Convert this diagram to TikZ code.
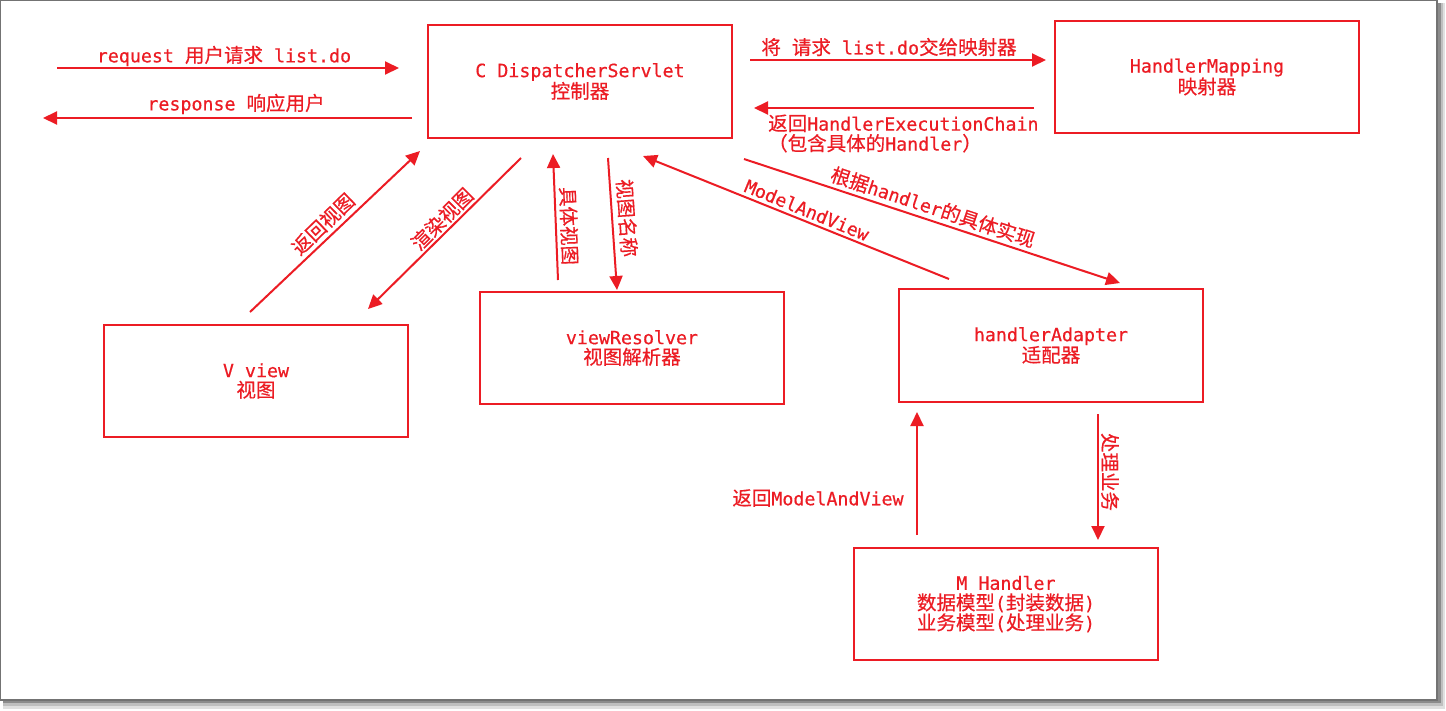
\documentclass[tikz,border=0pt]{standalone}
\usepackage{fontspec}
\setmainfont{DejaVu Sans Mono}
\newfontfamily\latinfont[FakeBold=0.5]{DejaVu Sans Mono}
\newfontfamily\cjkfont[FakeBold=0.5]{Noto Sans CJK SC}
\newcommand\zh[1]{{\cjkfont\fontsize{19.5}{20}\selectfont #1}}
\usetikzlibrary{arrows.meta,calc}
\definecolor{lred}{RGB}{236,28,36}
\begin{document}
\begin{tikzpicture}[x=1pt,y=-1pt,
  font=\latinfont\fontsize{18.3}{20}\selectfont,
  box/.style={draw=lred, line width=2pt, minimum width=304pt, minimum height=112pt,
    inner sep=0pt, align=center, text=lred},
  arr/.style={draw=lred, line width=2pt, -{Triangle[length=14pt,width=13pt]}},
  lbl/.style={text=lred, inner sep=0pt}]
% page and frame with drop shadow
\useasboundingbox (0,0) rectangle (1446,710);
\fill[white] (0,0) rectangle (1446,710);
\fill[black!12] (3,3) rectangle (1445,709);
\fill[black!25] (3,3) rectangle (1443,706);
\fill[black!45] (3,3) rectangle (1441,703);
\filldraw[fill=white, draw=black!55, line width=1.2pt] (0.6,0.6) rectangle (1437,700);

% components
\node[box, minimum height=113pt] (ds) at (580,81.5) {C DispatcherServlet\\\zh{控制器}};
\node[box] (hm) at (1207,77) {HandlerMapping\\\zh{映射器}};
\node[box] (vv) at (256,381) {V view\\\zh{视图}};
\node[box] (vr) at (632,348) {viewResolver\\\zh{视图解析器}};
\node[box, minimum height=113pt] (ha) at (1051,345.5) {handlerAdapter\\\zh{适配器}};
\node[box] (mh) at (1006,604) {M Handler\\\zh{数据模型}(\zh{封装数据})\\\zh{业务模型}(\zh{处理业务})};

% user side
\coordinate (userin) at (57,68);
\coordinate (userout) at (43,118);
\draw[arr] (userin) -- ([shift={(-28,-13.5)}]ds.west);
\node[lbl] at (224,56) {request \zh{用户请求} list.do};
\draw[arr] ([shift={(-15,36.5)}]ds.west) -- (userout);
\node[lbl] at (236,104) {response \zh{响应用户}};

% dispatcher <-> mapping
\draw[arr] ([shift={(17,-21.5)}]ds.east) -- ([shift={(-8,-17)}]hm.west);
\node[lbl] at (889,47) {\zh{将} \zh{请求} list.do\zh{交给映射器}};
\draw[arr] ([shift={(-20,31)}]hm.west) -- ([shift={(21,26.5)}]ds.east);
\node[lbl, anchor=west, align=left] at (768,133.5) {\zh{返回}HandlerExecutionChain\\\zh{（包含具体的}Handler\zh{）}};

% dispatcher <-> view
\draw[arr] ([shift={(-6,-12)}]vv.north) -- ([shift={(-7,12)}]ds.south west);
\node[lbl, rotate=44] at (323,224) {\zh{返回视图}};
\draw[arr] ([shift={(94,19)}]ds.south west) -- ([shift={(-41,-15)}]vv.north east);
\node[lbl, rotate=45] at (442,219) {\zh{渲染视图}};

% dispatcher <-> view resolver
\draw[arr] ([shift={(-74,-11)}]vr.north) -- ([shift={(-27,15)}]ds.south);
\node[lbl, rotate=-88] at (569,226) {\zh{具体视图}};
\draw[arr] ([shift={(28,19)}]ds.south) -- ([shift={(-15,-1)}]vr.north);
\node[lbl, rotate=-86] at (627,218) {\zh{视图名称}};

% dispatcher <-> adapter
\draw[arr] ([shift={(-102,-9)}]ha.north) -- ([shift={(63,17)}]ds.south);
\node[lbl, rotate=-22.2] at (807,210) {ModelAndView};
\draw[arr] ([shift={(11,20)}]ds.south east) -- ([shift={(69,-5)}]ha.north);
\node[lbl, rotate=-18.3] at (933,207) {\zh{根据}handler\zh{的具体实现}};

% adapter <-> handler
\draw[arr] ([shift={(-89,-12)}]mh.north) -- ([shift={(-134,9)}]ha.south);
\node[lbl] at (818,498) {\zh{返回}ModelAndView};
\draw[arr] ([shift={(47,11)}]ha.south) -- ([shift={(92,-7)}]mh.north);
\node[lbl, rotate=-90] at (1110,472) {\zh{处理业务}};
\end{tikzpicture}
\end{document}
